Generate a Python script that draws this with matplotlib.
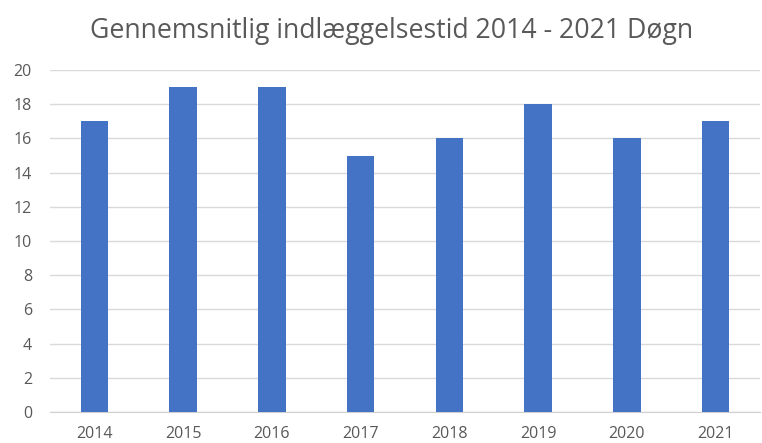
import matplotlib.pyplot as plt

years = ['2014', '2015', '2016', '2017', '2018', '2019', '2020', '2021']
days = [17, 19, 19, 15, 16, 18, 16, 17]

plt.rcParams['font.family'] = ['Open Sans', 'DejaVu Sans']

fig = plt.figure(figsize=(7.62, 4.43), dpi=100)
ax = fig.add_axes([50 / 762, 31 / 443, 710 / 762, 342 / 443])

x = range(len(years))
ax.bar(x, days, width=0.31, color='#4472C4', zorder=3)

ax.set_xlim(-0.5, len(years) - 0.5)
ax.set_ylim(0, 20)
ax.set_yticks(range(0, 21, 2))
ax.set_xticks(list(x))
ax.set_xticklabels(years)
ax.grid(axis='y', color='#d9d9d9', linewidth=1, zorder=0)
for s in ['top', 'right', 'left']:
    ax.spines[s].set_visible(False)
ax.spines['bottom'].set_color('#d0d0d0')
ax.tick_params(axis='both', length=0, colors='#595959', labelsize=11.5)
ax.tick_params(axis='y', pad=13)
ax.tick_params(axis='x', pad=10)

fig.text(392 / 762, 1 - 31 / 443, 'Gennemsnitlig indlæggelsestid 2014 - 2021 Døgn',
         ha='center', va='center', fontsize=19.2, color='#595959')

fig.savefig('out.png', dpi=100)
